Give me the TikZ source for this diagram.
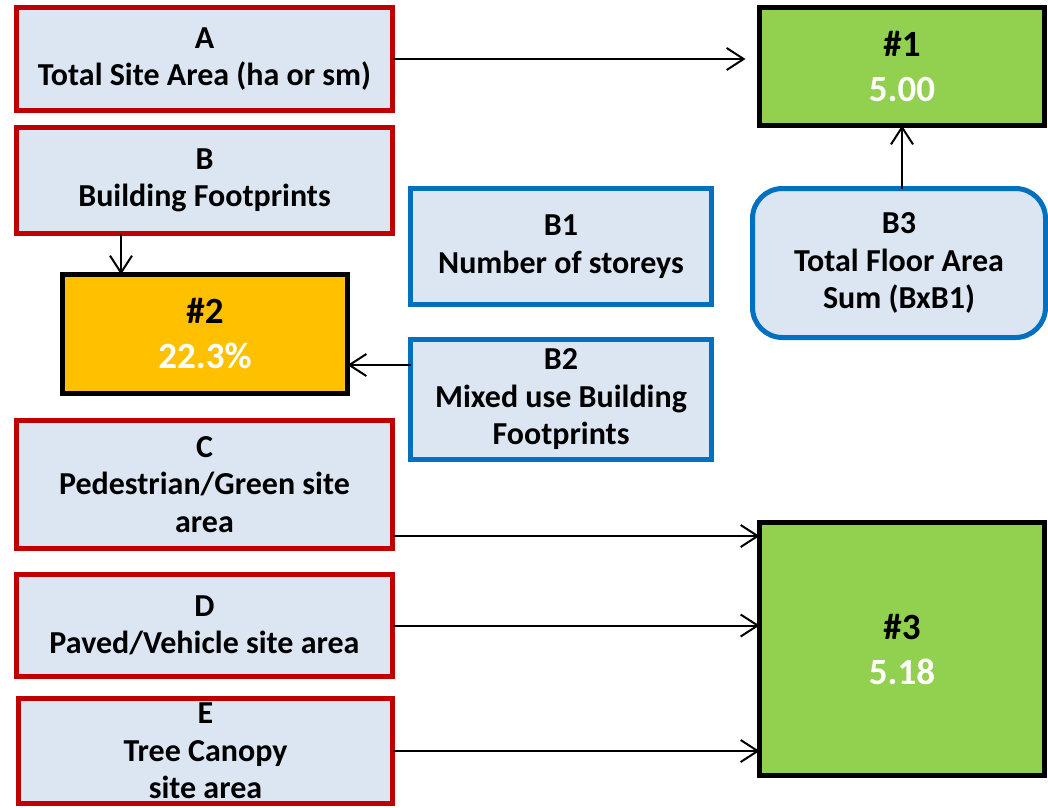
\documentclass[tikz,border=0pt]{standalone}
\usepackage{fontspec}
\setmainfont{Carlito}
\usepackage{xcolor}
\usetikzlibrary{arrows.meta,positioning,calc}

\definecolor{boxfill}{HTML}{DCE6F2}
\definecolor{redline}{HTML}{C00000}
\definecolor{blueline}{HTML}{0070C0}
\definecolor{resgreen}{HTML}{92D050}
\definecolor{resorange}{HTML}{FFC000}

\begin{document}
\begin{tikzpicture}[x=1pt, y=-1pt,
  inbox/.style={draw=redline, fill=boxfill, line width=5pt, align=center,
                font=\fontsize{32}{37.5}\selectfont\bfseries, inner sep=0pt, outer sep=0pt},
  subbox/.style={inbox, draw=blueline},
  resbox/.style={draw=black, line width=5pt, align=center, inner sep=0pt, outer sep=0pt,
                 font=\fontsize{37}{45}\selectfont\bfseries},
  arr/.style={-{Straight Barb[length=17pt, width=22pt]}, line width=2pt}]

  \useasboundingbox (0,0) rectangle (1048,807);

  % input boxes down the left side
  \node[inbox, minimum width=376pt, minimum height=103pt] (a) at (204.5,59)  {A\\Total Site Area (ha or sm)};
  \node[inbox, minimum width=376pt, minimum height=106pt] (b) at (204.5,180.5) {B\\Building Footprints};
  \node[inbox, minimum width=376pt, minimum height=128pt] (c) at (204.5,484.5) {C\\Pedestrian/Green site\\area};
  \node[inbox, minimum width=376pt, minimum height=102pt] (d) at (204.5,625.5) {D\\Paved/Vehicle site area};
  \node[inbox, minimum width=374pt, minimum height=105pt] (e) at (205.5,751)   {E\\Tree Canopy\\site area};

  % building sub-inputs
  \node[subbox, minimum width=301pt, minimum height=116pt] (b1) at (561,246.5) {B1\\Number of storeys};
  \node[subbox, minimum width=301pt, minimum height=120pt] (b2) at (561,399.5) {B2\\Mixed use Building\\Footprints};
  \node[subbox, rounded corners=30pt, minimum width=293pt, minimum height=149pt] (b3) at (899,263)
       {B3\\Total Floor Area\\Sum (BxB1)};

  % results
  \node[resbox, fill=resgreen,  minimum width=285pt, minimum height=118pt] (r1) at (902,66.5) {\#1\\\textcolor{white}{5.00}};
  \node[resbox, fill=resorange, minimum width=285pt, minimum height=119pt] (r2) at (205,334)  {\#2\\\textcolor{white}{22.3\%}};
  \node[resbox, fill=resgreen,  minimum width=285pt, minimum height=253pt] (r3) at (902,649)  {\#3\\\textcolor{white}{5.18}};

  \draw[arr, shorten >=14pt] (a.east) -- (a.east -| r1.west);
  \draw[arr] (b3.north -| r1.south) -- (r1.south);
  \draw[arr] ([xshift=-83.5pt]b.south) -- ([xshift=-83.5pt]b.south |- r2.north);
  \draw[arr] ([yshift=34.5pt]b2.west) -- ([yshift=34.5pt]b2.west -| r2.east);

  % everything on the ground feeds #3
  \draw[arr] ([yshift=-51.5pt]c.east) -- ([yshift=-51.5pt]c.east -| r3.west);
  \draw[arr] (d.east) -- (d.east -| r3.west);
  \draw[arr] (e.east) -- (e.east -| r3.west);
\end{tikzpicture}
\end{document}
